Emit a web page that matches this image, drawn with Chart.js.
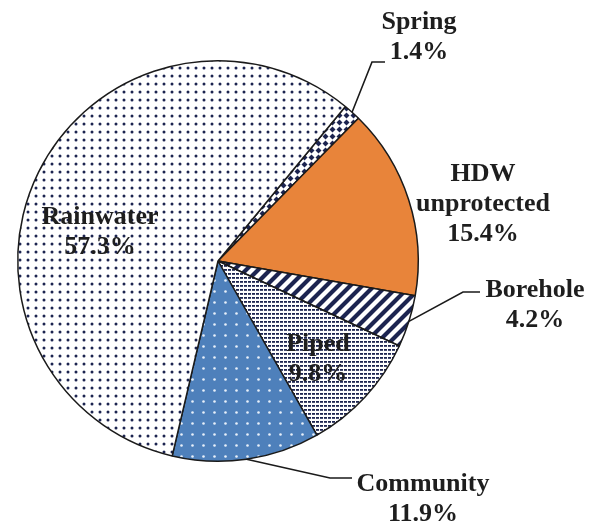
<!DOCTYPE html>
<html><head><meta charset="utf-8">
<script src="https://cdn.jsdelivr.net/npm/chart.js@4.4.1/dist/chart.umd.min.js"></script>
<style>html,body{margin:0;padding:0;background:#fff;}canvas{display:block;}</style>
</head><body>
<canvas id="c" width="592" height="525"></canvas>
<script>
// ---- data ----
const categories = ['Spring', 'HDW unprotected', 'Borehole', 'Piped', 'Community', 'Rainwater'];
const shares = [1.4, 15.4, 4.2, 9.8, 11.9, 57.3];
const nameLines = [['Spring'], ['HDW', 'unprotected'], ['Borehole'], ['Piped'], ['Community'], ['Rainwater']];

// ---- styling ----
const NAVY = '#1c2450';
const ORANGE = '#E8843A';
const BLUE = '#4E80BB';
const baseCtx = document.getElementById('c').getContext('2d');
function makePattern(w, h, draw) {
  const c = document.createElement('canvas'); c.width = w; c.height = h;
  const g = c.getContext('2d'); draw(g, w, h);
  return baseCtx.createPattern(c, 'repeat');
}
const springPat = makePattern(7, 7, (g) => {
  g.fillStyle = '#fff'; g.fillRect(0, 0, 7, 7);
  g.fillStyle = NAVY; g.beginPath();
  g.moveTo(3.5, 0.5); g.lineTo(6.5, 3.5); g.lineTo(3.5, 6.5); g.lineTo(0.5, 3.5); g.closePath(); g.fill();
});
const rainPat = makePattern(8, 8, (g) => {
  g.fillStyle = '#fff'; g.fillRect(0, 0, 8, 8);
  g.fillStyle = NAVY; g.beginPath(); g.arc(4, 4, 1.5, 0, Math.PI * 2); g.fill();
});
const commPat = makePattern(11, 11, (g) => {
  g.fillStyle = BLUE; g.fillRect(0, 0, 11, 11);
  g.fillStyle = '#e8f0fa'; g.beginPath(); g.arc(5.5, 5.5, 1.3, 0, Math.PI * 2); g.fill();
});
const pipedPat = makePattern(4, 4, (g) => {
  g.fillStyle = '#fff'; g.fillRect(0, 0, 4, 4);
  g.fillStyle = NAVY; g.fillRect(0, 1, 3, 1.8);
});
const borePat = makePattern(12, 12, (g) => {
  g.fillStyle = '#fff'; g.fillRect(0, 0, 12, 12);
  g.strokeStyle = NAVY; g.lineWidth = 4.2; g.beginPath();
  g.moveTo(-6, 6); g.lineTo(6, -6);
  g.moveTo(0, 12); g.lineTo(12, 0);
  g.moveTo(6, 18); g.lineTo(18, 6);
  g.stroke();
});
const fills = [springPat, ORANGE, borePat, pipedPat, commPat, rainPat];

// label placement relative to pie centre (px); leaders start at the slice mid-angle on the rim
const labelLayout = [
  { dx: 201, dy: -232, leader: [[154, -199], [167, -199]] },
  { dx: 265, dy: -80 },
  { dx: 317, dy: 36, leader: [[245, 31], [262, 31]] },
  { dx: 100, dy: 90 },
  { dx: 205, dy: 230, leader: [[112, 217], [134, 217]] },
  { dx: -118, dy: -37 }
];
const LINE_H = 30;

const labelPlugin = {
  id: 'sliceLabels',
  afterDatasetsDraw(chart) {
    const ctx = chart.ctx;
    const meta = chart.getDatasetMeta(0);
    ctx.save();
    meta.data.forEach((arc, i) => {
      const p = arc.getProps(['x', 'y', 'startAngle', 'endAngle', 'outerRadius'], true);
      const lay = labelLayout[i];
      if (lay.leader) {
        const a = (p.startAngle + p.endAngle) / 2;
        ctx.beginPath();
        ctx.moveTo(p.x + p.outerRadius * Math.cos(a), p.y + p.outerRadius * Math.sin(a));
        lay.leader.forEach(([lx, ly]) => ctx.lineTo(p.x + lx, p.y + ly));
        ctx.strokeStyle = '#1a1a1a'; ctx.lineWidth = 1.6; ctx.stroke();
      }
      const lines = nameLines[i].concat([shares[i].toFixed(1) + '%']);
      ctx.fillStyle = '#1e1e1e';
      ctx.font = 'bold 26px "Liberation Serif", "DejaVu Serif", serif';
      ctx.textAlign = 'center'; ctx.textBaseline = 'alphabetic';
      lines.forEach((t, k) => ctx.fillText(t, p.x + lay.dx, p.y + lay.dy + k * LINE_H));
    });
    ctx.restore();
  }
};

new Chart(document.getElementById('c'), {
  type: 'pie',
  data: {
    labels: categories,
    datasets: [{
      data: shares,
      backgroundColor: fills,
      borderColor: '#1a1a1a',
      borderWidth: 1.5,
      borderAlign: 'center'
    }]
  },
  options: {
    responsive: false,
    animation: false,
    rotation: 39.5,
    layout: { padding: { left: 17, right: 173, top: 60, bottom: 63 } },
    plugins: { legend: { display: false }, tooltip: { enabled: false } }
  },
  plugins: [labelPlugin]
});
</script>
</body></html>
